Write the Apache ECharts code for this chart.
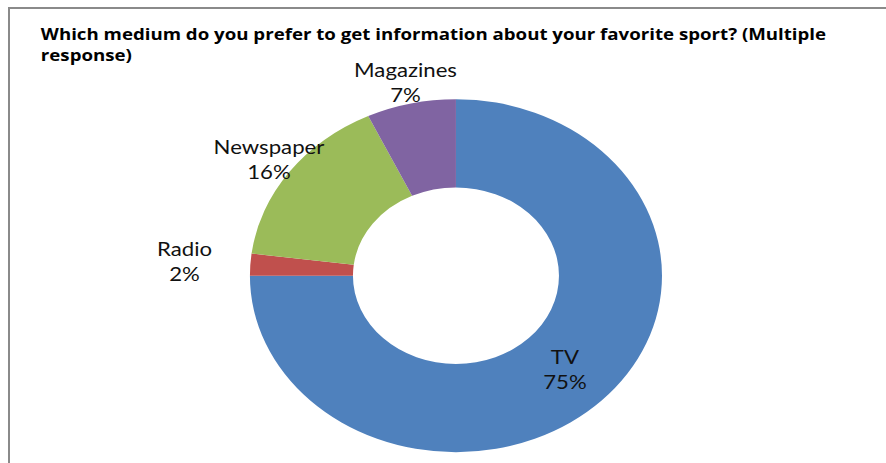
<!DOCTYPE html>
<html>
<head>
<meta charset="utf-8">
<script src="https://cdn.jsdelivr.net/npm/echarts@6/dist/echarts.min.js"></script>
<style>
  html, body { margin: 0; padding: 0; background: #fff; overflow: hidden; width: 886px; height: 463px; }
  #frame { position: absolute; left: 8px; top: 7px; width: 900px; height: 480px; border: 2px solid #8a8a8a; box-sizing: border-box; }
  /* the chart is laid out at 759px wide and stretched to the full 886px page width */
  #chart { position: absolute; left: 0; top: 0; width: 759px; height: 463px; transform: scaleX(1.16733); transform-origin: 0 0; }
</style>
</head>
<body>
<div id="frame"></div>
<div id="chart"></div>
<script>
// Survey answers, share of respondents in percent
const categories = ['TV', 'Radio', 'Newspaper', 'Magazines'];
const shares = [75, 2, 16, 7];
const sliceColors = ['#4F81BD', '#C0504D', '#9BBB59', '#8064A2'];
const chartTitle = 'Which medium do you prefer to get information about your favorite sport? (Multiple\nresponse)';

// Ring geometry (chart px, before the horizontal stretch)
const ringCenter = [390.6, 275.7];
const ringRadius = [88.25, 176.5];
// distance of each label's centre from the ring centre, along its slice bisector
const labelReach = [132, 233, 198, 198];

const total = shares.reduce((a, b) => a + b, 0);
const midAngles = [];
let running = 0;
shares.forEach(v => {
  midAngles.push(2 * Math.PI * (running + v / 2) / total);
  running += v;
});

const chart = echarts.init(document.getElementById('chart'), null, { renderer: 'svg' });

chart.setOption({
  animation: false,
  textStyle: { fontFamily: 'Lato' },
  title: {
    text: chartTitle,
    left: 30,
    top: 18,
    textStyle: {
      fontFamily: 'Open Sans',
      fontSize: 16,
      fontWeight: 'bold',
      color: '#000',
      lineHeight: 21
    }
  },
  series: [{
    type: 'pie',
    center: ringCenter,
    radius: ringRadius,
    startAngle: 90,
    clockwise: true,
    avoidLabelOverlap: false,
    itemStyle: { borderWidth: 0 },
    label: {
      show: true,
      position: 'outside',
      formatter: '{b}\n{d}%',
      fontFamily: 'Lato',
      fontSize: 19,
      lineHeight: 25,
      color: '#111',
      align: 'center'
    },
    labelLine: { show: false },
    labelLayout: function (params) {
      const i = params.dataIndex;
      const a = midAngles[i];
      return {
        x: ringCenter[0] + labelReach[i] * Math.sin(a),
        y: ringCenter[1] - labelReach[i] * Math.cos(a),
        align: 'center',
        verticalAlign: 'middle'
      };
    },
    emphasis: { disabled: true },
    data: categories.map((name, i) => ({
      name: name,
      value: shares[i],
      itemStyle: { color: sliceColors[i] }
    }))
  }]
});
</script>
</body>
</html>
